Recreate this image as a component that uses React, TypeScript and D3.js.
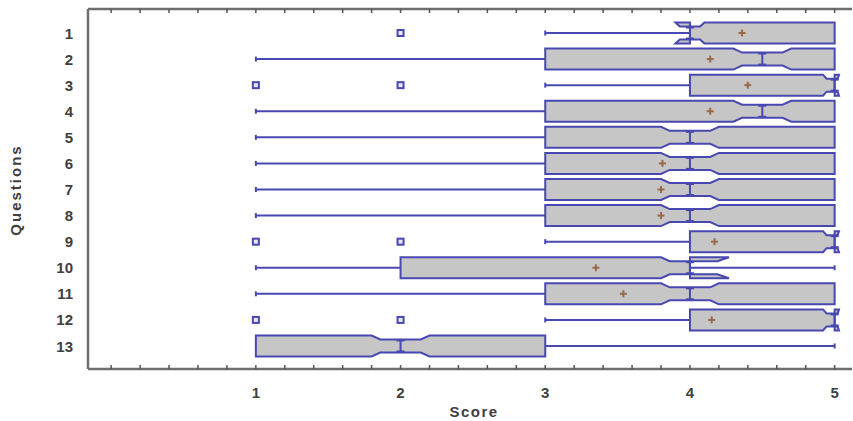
import * as d3 from "d3";

// values
const questions = ["1", "2", "3", "4", "5", "6", "7", "8", "9", "10", "11", "12", "13"];
const whiskerLow = [3, 1, 3, 1, 1, 1, 1, 1, 3, 1, 1, 3, 1];
const q1 = [4, 3, 4, 3, 3, 3, 3, 3, 4, 2, 3, 4, 1];
const notchLow = [3.9, 4.3, 4.92, 4.3, 3.8, 3.8, 3.8, 3.8, 4.92, 3.8, 3.8, 4.92, 1.8];
const medians = [4, 4.5, 5, 4.5, 4, 4, 4, 4, 5, 4, 4, 5, 2];
const notchHigh = [4.1, 4.7, 5.03, 4.7, 4.2, 4.2, 4.2, 4.2, 5.03, 4.27, 4.2, 5.03, 2.2];
const q3 = [5, 5, 5, 5, 5, 5, 5, 5, 5, 4, 5, 5, 3];
const whiskerHigh = [5, 5, 5, 5, 5, 5, 5, 5, 5, 5, 5, 5, 5];
const means: (number | null)[] = [4.36, 4.14, 4.4, 4.14, null, 3.81, 3.8, 3.8, 4.17, 3.35, 3.54, 4.15, null];
const outliers: number[][] = [[2], [], [1, 2], [], [], [], [], [], [1, 2], [], [], [1, 2], []];
const xTickLabels = [1, 2, 3, 4, 5];

const WIDTH = 853;
const HEIGHT = 421;
const FRAME = { left: 88, right: 852, top: 9, bottom: 369 };
const BOX_HALF = 10.5;
const NOTCH_INSET = 4;

const BLUE = "#4848b0";
const FILL = "#c6c6c6";
const FRAME_COLOR = "#6e6e6e";
const TEXT_COLOR = "#404040";
const FONT = "'Liberation Sans', Arial, sans-serif";

export default function App() {
  const xScale = d3.scaleLinear().domain([-0.16, 5.12]).range([FRAME.left, FRAME.right]);
  const yScale = d3.scalePoint<string>().domain(questions).range([33, 346]);

  // minor ticks every 0.2 on top and bottom frame lines
  const ticks = d3.range(0, 26).map((i) => +(i * 0.2).toFixed(1));

  const rows = questions.map((q, i) => {
    const cy = yScale(q) as number;
    const top = cy - BOX_HALF;
    const bot = cy + BOX_HALF;
    const x = (v: number) => xScale(v);
    const m = medians[i];
    const nl = notchLow[i];
    const nh = notchHigh[i];
    // short slant into the notch, then flat up to the median
    const sl = nl + (m - nl) * 0.3;
    const sh = nh - (nh - m) * 0.3;

    // notched box outline, folds naturally when the notch passes a hinge
    const pts: [number, number][] = [
      [x(q1[i]), top],
      [x(nl), top],
      [x(sl), top + NOTCH_INSET],
      [x(sh), top + NOTCH_INSET],
      [x(nh), top],
      [x(q3[i]), top],
      [x(q3[i]), bot],
      [x(nh), bot],
      [x(sh), bot - NOTCH_INSET],
      [x(sl), bot - NOTCH_INSET],
      [x(nl), bot],
      [x(q1[i]), bot],
    ];
    const outline = d3.line()(pts) + "Z";

    return (
      <g key={q}>
        {whiskerLow[i] < q1[i] && (
          <g>
            <line x1={x(whiskerLow[i])} x2={x(q1[i])} y1={cy} y2={cy} stroke={BLUE} strokeWidth={2} />
            <line x1={x(whiskerLow[i])} x2={x(whiskerLow[i])} y1={cy - 2.5} y2={cy + 2.5} stroke={BLUE} strokeWidth={2} />
          </g>
        )}
        {whiskerHigh[i] > q3[i] && (
          <g>
            <line x1={x(q3[i])} x2={x(whiskerHigh[i])} y1={cy} y2={cy} stroke={BLUE} strokeWidth={2} />
            <line x1={x(whiskerHigh[i])} x2={x(whiskerHigh[i])} y1={cy - 2.5} y2={cy + 2.5} stroke={BLUE} strokeWidth={2} />
          </g>
        )}
        <path d={outline} fill={FILL} stroke={BLUE} strokeWidth={2} strokeLinejoin="miter" />
        <g stroke={BLUE} strokeWidth={2}>
          <line x1={x(m)} x2={x(m)} y1={top + NOTCH_INSET} y2={bot - NOTCH_INSET} />
          <line x1={x(m) - 4} x2={x(m) + 4} y1={top + NOTCH_INSET + 1} y2={top + NOTCH_INSET + 1} />
          <line x1={x(m) - 4} x2={x(m) + 4} y1={bot - NOTCH_INSET - 1} y2={bot - NOTCH_INSET - 1} />
        </g>
        {means[i] !== null && (
          <g stroke="#9a6a48" strokeWidth={2}>
            <line x1={x(means[i] as number) - 3.5} x2={x(means[i] as number) + 3.5} y1={cy} y2={cy} />
            <line x1={x(means[i] as number)} x2={x(means[i] as number)} y1={cy - 3.5} y2={cy + 3.5} />
          </g>
        )}
        {outliers[i].map((o) => (
          <rect
            key={o}
            x={x(o) - 3}
            y={cy - 3}
            width={6}
            height={6}
            fill="#e8e8f4"
            stroke={BLUE}
            strokeWidth={2}
          />
        ))}
      </g>
    );
  });

  return (
    <div style={{ position: "absolute", left: 0, top: 0 }}>
      <svg width={WIDTH} height={HEIGHT} style={{ display: "block", background: "#fff" }}>
        {rows}

        {/* frame: left, top, bottom */}
        <g stroke={FRAME_COLOR} strokeWidth={2.5} fill="none">
          <line x1={FRAME.left} x2={FRAME.left} y1={FRAME.top} y2={FRAME.bottom} />
          <line x1={FRAME.left} x2={FRAME.right} y1={FRAME.top} y2={FRAME.top} />
          <line x1={FRAME.left} x2={FRAME.right} y1={FRAME.bottom} y2={FRAME.bottom} />
        </g>
        <g stroke="#555" strokeWidth={1.5}>
          {ticks.map((t) => (
            <g key={t}>
              <line x1={xScale(t)} x2={xScale(t)} y1={FRAME.top} y2={FRAME.top + 4} />
              <line x1={xScale(t)} x2={xScale(t)} y1={FRAME.bottom} y2={FRAME.bottom - 4} />
            </g>
          ))}
        </g>

        {/* x tick labels */}
        {xTickLabels.map((t) => (
          <text
            key={t}
            x={xScale(t)}
            y={398}
            textAnchor="middle"
            fontFamily={FONT}
            fontWeight="bold"
            fontSize={15}
            fill={TEXT_COLOR}
          >
            {t}
          </text>
        ))}
        <text
          x={474}
          y={417}
          textAnchor="middle"
          fontFamily={FONT}
          fontWeight="bold"
          fontSize={15}
          letterSpacing={1.5}
          fill={TEXT_COLOR}
        >
          Score
        </text>

        {/* y labels */}
        {questions.map((q) => (
          <text
            key={q}
            x={73}
            y={(yScale(q) as number) + 5.5}
            textAnchor="end"
            fontFamily={FONT}
            fontWeight="bold"
            fontSize={15}
            fill={TEXT_COLOR}
          >
            {q}
          </text>
        ))}
        <text
          transform="translate(21,190) rotate(-90)"
          textAnchor="middle"
          fontFamily={FONT}
          fontWeight="bold"
          fontSize={15}
          letterSpacing={2}
          fill={TEXT_COLOR}
        >
          Questions
        </text>
      </svg>
    </div>
  );
}
